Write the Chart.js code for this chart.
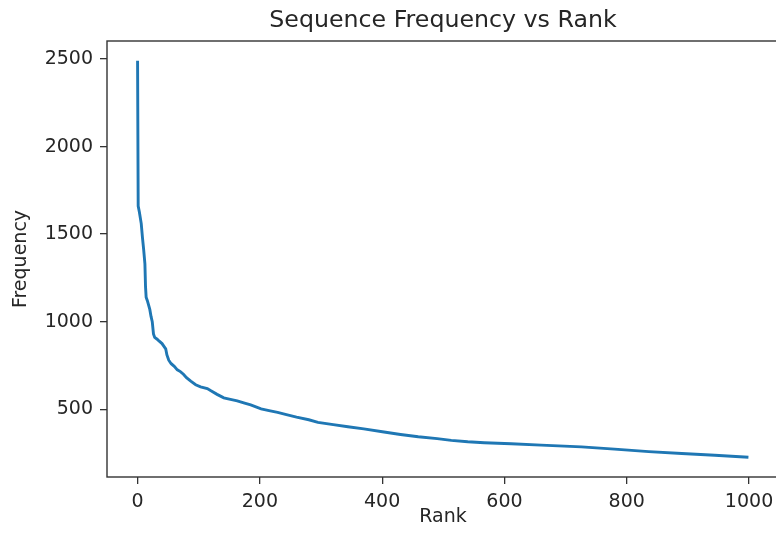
<!DOCTYPE html>
<html>
<head>
<meta charset="utf-8">
<script src="https://cdn.jsdelivr.net/npm/chart.js@4"></script>
<style>
  html, body { margin: 0; padding: 0; background: #fff; overflow: hidden; }
  #wrap { position: relative; width: 820px; height: 539px; }
</style>
</head>
<body>
<div id="wrap"><canvas id="chart" width="820" height="539"></canvas></div>
<script>
// rank / frequency pairs
var ranks = [0, 1, 3, 6, 8, 10, 12, 13, 14, 16, 20, 22, 24, 26, 28, 32, 35, 40, 44, 46, 48, 51, 55, 60, 65, 70, 75, 80, 87, 95, 103, 114, 120, 130, 141, 150, 163, 175, 185, 202, 215, 229, 245, 260, 280, 295, 320, 344, 370, 403, 430, 459, 490, 513, 540, 567, 611, 660, 726, 780, 836, 890, 944, 999];
var frequencies = [2490, 1660, 1625, 1560, 1480, 1410, 1330, 1200, 1140, 1120, 1070, 1030, 1000, 930, 910, 900, 890, 875, 855, 845, 810, 780, 760, 745, 725, 715, 700, 680, 660, 640, 628, 618, 605, 585, 565, 558, 548, 535, 525, 502, 492, 482, 468, 455, 440, 425, 412, 400, 388, 370, 356, 343, 332, 322, 314, 309, 303, 295, 285, 272, 258, 247, 237, 226];

var xTicks = [0, 200, 400, 600, 800, 1000];
var yTicks = [500, 1000, 1500, 2000, 2500];

var chartTitle = 'Sequence Frequency vs Rank';

var points = ranks.map(function (r, i) {
  return { x: r, y: frequencies[i] };
});

var textColor = '#262626';
var frameColor = '#333333';
var fontFamily = '"DejaVu Sans", sans-serif';

// box round the plot area and a title centred over it, like matplotlib
var framePlugin = {
  id: 'frame',
  afterDraw: function (chart) {
    var a = chart.chartArea;
    var ctx = chart.ctx;
    ctx.save();
    ctx.strokeStyle = frameColor;
    ctx.lineWidth = 1.4;
    ctx.strokeRect(a.left, a.top, a.right - a.left, a.bottom - a.top);

    ctx.fillStyle = textColor;
    ctx.font = '23.7px ' + fontFamily;
    ctx.textAlign = 'center';
    ctx.textBaseline = 'middle';
    ctx.fillText(chartTitle, (a.left + a.right) / 2, 21);
    ctx.restore();
  }
};

function plainLabel(value) {
  return String(value);
}

new Chart(document.getElementById('chart').getContext('2d'), {
  type: 'line',
  data: {
    datasets: [{
      data: points,
      borderColor: '#1f77b4',
      borderWidth: 2.9,
      pointRadius: 0,
      tension: 0,
      fill: false
    }]
  },
  options: {
    responsive: false,
    animation: false,
    layout: { padding: { left: 0, right: 41, top: 41, bottom: 0 } },
    plugins: {
      legend: { display: false },
      tooltip: { enabled: false },
      title: { display: false }
    },
    scales: {
      x: {
        type: 'linear',
        min: -50,
        max: 1049,
        afterBuildTicks: function (scale) {
          scale.ticks = xTicks.map(function (v) { return { value: v }; });
        },
        afterFit: function (scale) { scale.height = 62; },
        grid: { display: true, drawOnChartArea: false, drawTicks: true, tickLength: 7, color: frameColor, lineWidth: 1.3 },
        border: { display: false },
        ticks: { color: textColor, padding: 7, maxRotation: 0, callback: plainLabel, font: { family: fontFamily, size: 19 } },
        title: {
          display: true,
          text: 'Rank',
          color: textColor,
          font: { family: fontFamily, size: 19 },
          padding: { top: 0, bottom: 11 }
        }
      },
      y: {
        type: 'linear',
        min: 113,
        max: 2603,
        afterBuildTicks: function (scale) {
          scale.ticks = yTicks.map(function (v) { return { value: v }; });
        },
        afterFit: function (scale) { scale.width = 107; },
        grid: { display: true, drawOnChartArea: false, drawTicks: true, tickLength: 7, color: frameColor, lineWidth: 1.3 },
        border: { display: false },
        ticks: { color: textColor, padding: 7, callback: plainLabel, font: { family: fontFamily, size: 19 } },
        title: {
          display: true,
          text: 'Frequency',
          color: textColor,
          font: { family: fontFamily, size: 19 },
          padding: { top: 10, bottom: 0 }
        }
      }
    }
  },
  plugins: [framePlugin]
});
</script>
</body>
</html>
